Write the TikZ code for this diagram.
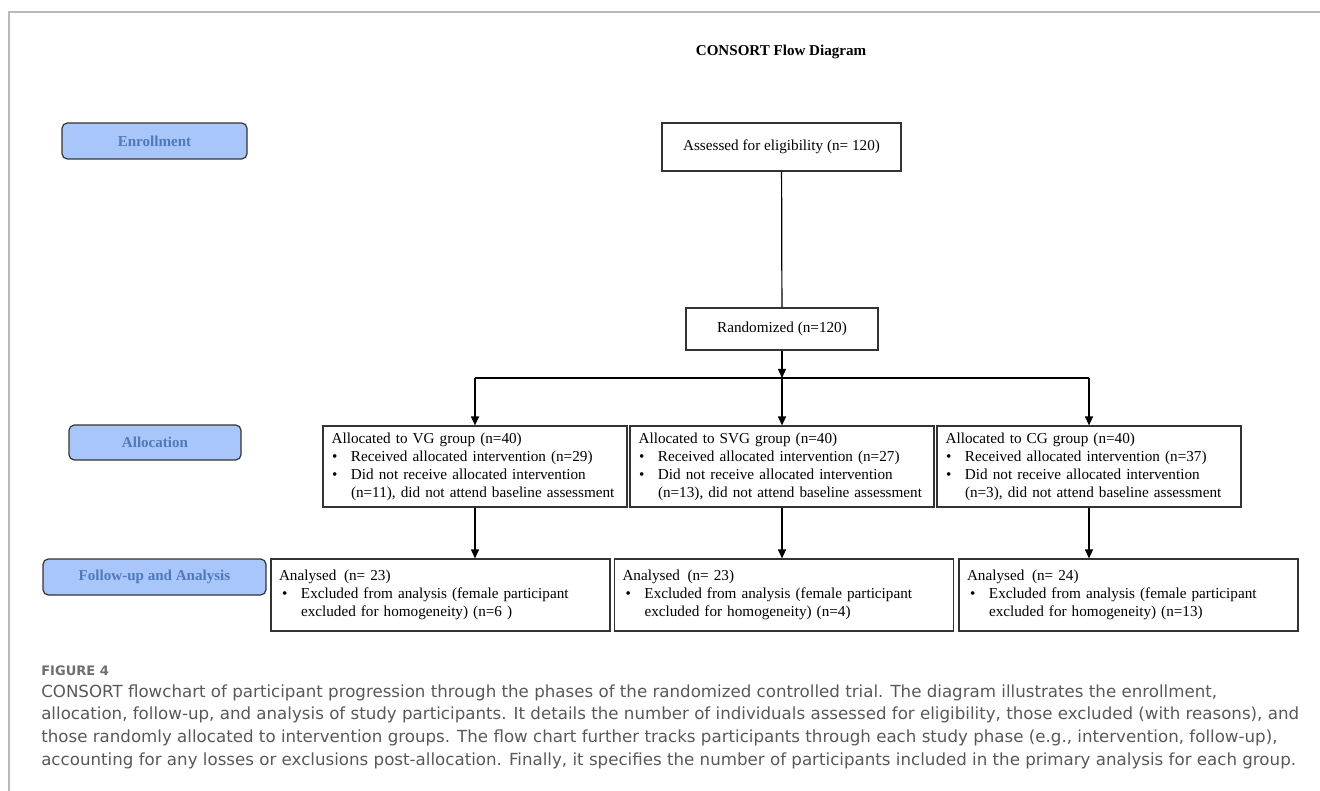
\documentclass[tikz,border=0pt]{standalone}
\usepackage{fontspec}
\setmainfont{Liberation Serif}
\newfontfamily\capfont{DejaVu Sans}
\usepackage{xcolor}
\definecolor{phasefill}{RGB}{168,198,250}
\definecolor{phasetext}{RGB}{79,121,186}
\definecolor{framegray}{RGB}{185,185,185}
\definecolor{capgray}{RGB}{88,88,88}
\definecolor{figgray}{RGB}{110,110,110}
\usepackage{tikz}
\usetikzlibrary{positioning,arrows.meta}

% bullet line with hanging indent
\newcommand{\bitem}{\par\noindent\hangindent=16.5pt\hangafter=1\makebox[16.5pt][l]{\hspace{2.25pt}\textbullet}}

\begin{document}
\begin{tikzpicture}[x=0.75pt,y=-0.75pt,
	phase/.style={draw=black!80, line width=0.9pt, rounded corners=4pt, fill=phasefill, text=phasetext, font=\fontsize{11.3}{12.6}\selectfont\bfseries, minimum height=27pt, inner sep=0pt},
	flowbox/.style={draw=black!80, line width=0.9pt, inner sep=0pt, font=\fontsize{11.4}{13.5}\selectfont},
	groupbox/.style={flowbox, minimum height=60.75pt, text width=219pt, inner xsep=4.5pt, font=\fontsize{11.4}{13.5}\selectfont\raggedright},
	resultbox/.style={flowbox, minimum height=54pt, text width=242.25pt, inner xsep=6pt, font=\fontsize{11.4}{13.5}\selectfont\raggedright},
	arr/.style={line width=0.9pt, -{Triangle[length=6.75pt,width=6pt]}},
	capline/.style={anchor=mid west, inner sep=0pt, text=capgray, font=\capfont\fontsize{12.5}{14}\selectfont}]
	\useasboundingbox (0,0) rectangle (1320,791);
	% draw frame
	\draw[framegray, line width=1.1pt] (9,791) -- (9,12) -- (1320,12);
	
	% draw title
	\node[font=\fontsize{11.3}{12.6}\selectfont\bfseries] (title) at (781,52) {CONSORT Flow Diagram};
	
	% draw phase labels
	\node[phase, minimum width=138.75pt] (enroll) at (154.5,141) {Enrollment};
	\node[phase, minimum width=129pt, minimum height=26.25pt] (alloc) at (155,442.5) {Allocation};
	\node[phase, minimum width=167.25pt] (follow) at (154.5,577) {Follow-up and Analysis};
	
	% draw nodes
	\node[flowbox, minimum width=179.25pt, minimum height=36pt] (assess) at (781.5,147) {Assessed for eligibility (n= 120)};
	\node[flowbox, minimum width=144pt, minimum height=31.5pt] (random) at (782,329) {Randomized (n=120)};
	
	\node[groupbox] (vg) at (475,466.5) {\hspace*{2pt}Allocated to VG group (n=40)
		\bitem Received allocated intervention (n=29)
		\bitem Did not receive allocated intervention\newline\mbox{(n=11), did not attend baseline assessment}\par};
	\node[groupbox] (svg) at (782,466.5) {\hspace*{2pt}Allocated to SVG group (n=40)
		\bitem Received allocated intervention (n=27)
		\bitem Did not receive allocated intervention\newline\mbox{(n=13), did not attend baseline assessment}\par};
	\node[groupbox] (cg) at (1089,466.5) {\hspace*{2pt}Allocated to CG group (n=40)
		\bitem Received allocated intervention (n=37)
		\bitem Did not receive allocated intervention\newline\mbox{(n=3), did not attend baseline assessment}\par};
	
	\node[resultbox] (anvg) at (440.5,595) {Analysed\enspace(n= 23)
		\bitem Excluded from analysis (female participant\newline excluded for homogeneity) (n=6 )\par};
	\node[resultbox] (ansvg) at (784,595) {Analysed\enspace(n= 23)
		\bitem Excluded from analysis (female participant\newline excluded for homogeneity) (n=4)\par};
	\node[resultbox] (ancg) at (1128.5,595) {Analysed\enspace(n= 24)
		\bitem Excluded from analysis (female participant\newline excluded for homogeneity) (n=13)\par};
	
	%%%arrows
	\coordinate (barl) at (475,378);
	\coordinate (barm) at (782,378);
	\coordinate (barr) at (1089,378);
	\draw[line width=0.9pt] (assess) -- (random);
	\draw[arr] (random) -- (barm);
	\draw[line width=0.9pt] (barl) -- (barr);
	\draw[arr] (barl) -- (vg);
	\draw[arr] (barm) -- (svg);
	\draw[arr] (barr) -- (cg);
	\draw[arr] (vg) -- (vg.south |- anvg.north);
	\draw[arr] (svg) -- (svg.south |- ansvg.north);
	\draw[arr] (cg) -- (cg.south |- ancg.north);
	
	% draw caption
	\node[capline, text=figgray, font=\capfont\fontsize{9.8}{14}\selectfont\bfseries] (fig) at (41,672) {FIGURE 4};
	\node[capline] (cap1) at (41,694) {CONSORT flowchart of participant progression through the phases of the randomized controlled trial. The diagram illustrates the enrollment,};
	\node[capline] (cap2) at (41,716) {allocation, follow-up, and analysis of study participants. It details the number of individuals assessed for eligibility, those excluded (with reasons), and};
	\node[capline] (cap3) at (41,739) {those randomly allocated to intervention groups. The flow chart further tracks participants through each study phase (e.g., intervention, follow-up),};
	\node[capline] (cap4) at (41,762) {accounting for any losses or exclusions post-allocation. Finally, it specifies the number of participants included in the primary analysis for each group.};
\end{tikzpicture}
\end{document}
